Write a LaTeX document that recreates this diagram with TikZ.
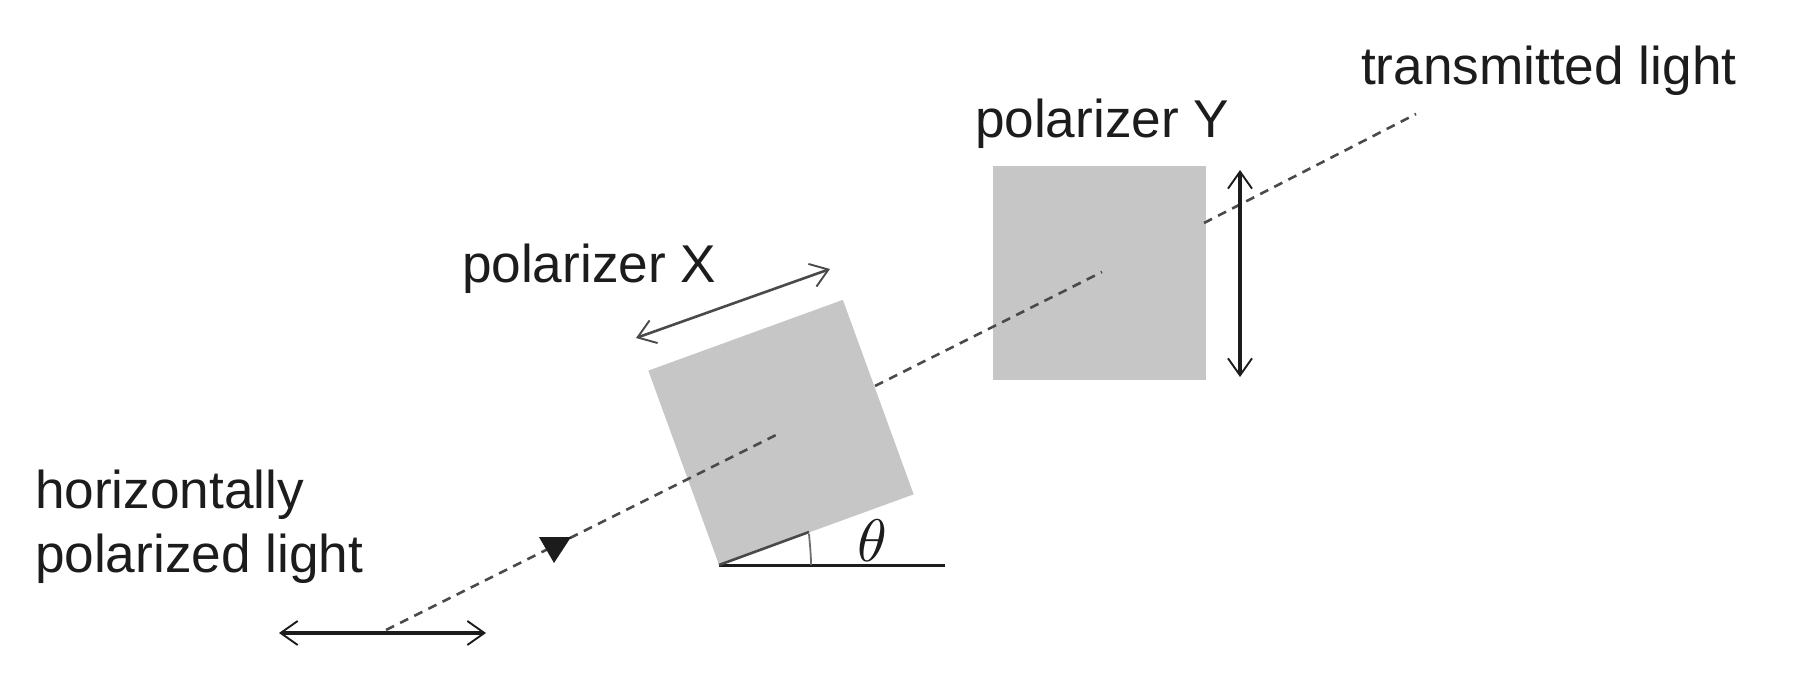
\documentclass[tikz,border=0pt]{standalone}
\usepackage{fontspec}
\setmainfont{Liberation Sans}
\usetikzlibrary{arrows.meta}
\definecolor{ink}{HTML}{1C1C1C}
\definecolor{beam}{HTML}{4A4A4A}
\definecolor{panelgrey}{HTML}{C6C6C6}
\tikzset{
  label text/.style={anchor=base west,inner sep=0pt,outer sep=0pt,text=ink,font=\fontsize{53.2}{65}\selectfont},
  panel/.style={fill=panelgrey,draw=none,inner sep=0pt,outer sep=0pt},
  beamline/.style={draw=beam,line width=2.6pt,dash pattern=on 9pt off 6.8pt},
  pol arrow/.style={draw=ink,line width=3.2pt,{Straight Barb[length=17pt,width=24pt,line width=1.9pt]}-{Straight Barb[length=17pt,width=24pt,line width=1.9pt]}},
  tilted arrow/.style={draw=beam,line width=2.6pt,{Straight Barb[length=17pt,width=24pt,line width=1.9pt]}-{Straight Barb[length=17pt,width=24pt,line width=1.9pt]}},
  base line/.style={draw=ink,line width=3pt},
  thin arc/.style={draw=beam!80,line width=1.8pt}
}
\begin{document}
\begin{tikzpicture}[x=1pt,y=-1pt]
\useasboundingbox (0,0) rectangle (1798,692);
% polarizers
\node[panel,minimum width=213pt,minimum height=214pt] (Y) at (1099.5,273) {};
\node[panel,minimum width=207pt,minimum height=207pt,rotate=20] (X) at (781,432.5) {};
% beam
\coordinate (b0) at (386,630);
\coordinate (b1) at (776,435);
\coordinate (b2) at (875,386);
\coordinate (b3) at (1102,272);
\coordinate (b4) at (1204,223);
\coordinate (b5) at (1416,114);
\draw[beamline] (b0) -- (b1);
\draw[beamline] (b2) -- (b3);
\draw[beamline] (b4) -- (b5);
% direction triangle
\coordinate (t1) at (539,537);
\coordinate (t2) at (571,537);
\coordinate (t3) at (554,563);
\fill[ink] (t1) -- (t2) -- (t3) -- cycle;
% polarisation arrows
\coordinate (h1) at (279,633);
\coordinate (h2) at (486,633);
\draw[pol arrow] (h1) -- (h2);
\coordinate (v1) at (1240,170);
\coordinate (v2) at (1240,377);
\draw[pol arrow] (v1) -- (v2);
\coordinate (x1) at (636,338);
\coordinate (x2) at (830,269);
\draw[tilted arrow] (x1) -- (x2);
% angle
\coordinate (c) at (719,565);
\coordinate (e1) at (945,565);
\coordinate (e2) at (809,532);
\coordinate (a1) at (809,534);
\coordinate (a2) at (811,565);
\draw[base line] (c) -- (e1);
\draw[draw=ink!80,line width=2.6pt] (c) -- (e2);
\draw[thin arc] (a1) .. controls (810,545) and (811,555) .. (a2);
\node[inner sep=0pt,text=ink,scale=6] (theta) at (872,541) {$\theta$};
% labels
\node[label text] (lx) at (462,283) {polarizer X};
\node[label text] (ly) at (975,138) {polarizer Y};
\node[label text] (lt) at (1361,85) {transmitted light};
\node[label text] (lh1) at (35,508) {horizontally};
\node[label text] (lh2) at (35,572) {polarized light};
\end{tikzpicture}
\end{document}
